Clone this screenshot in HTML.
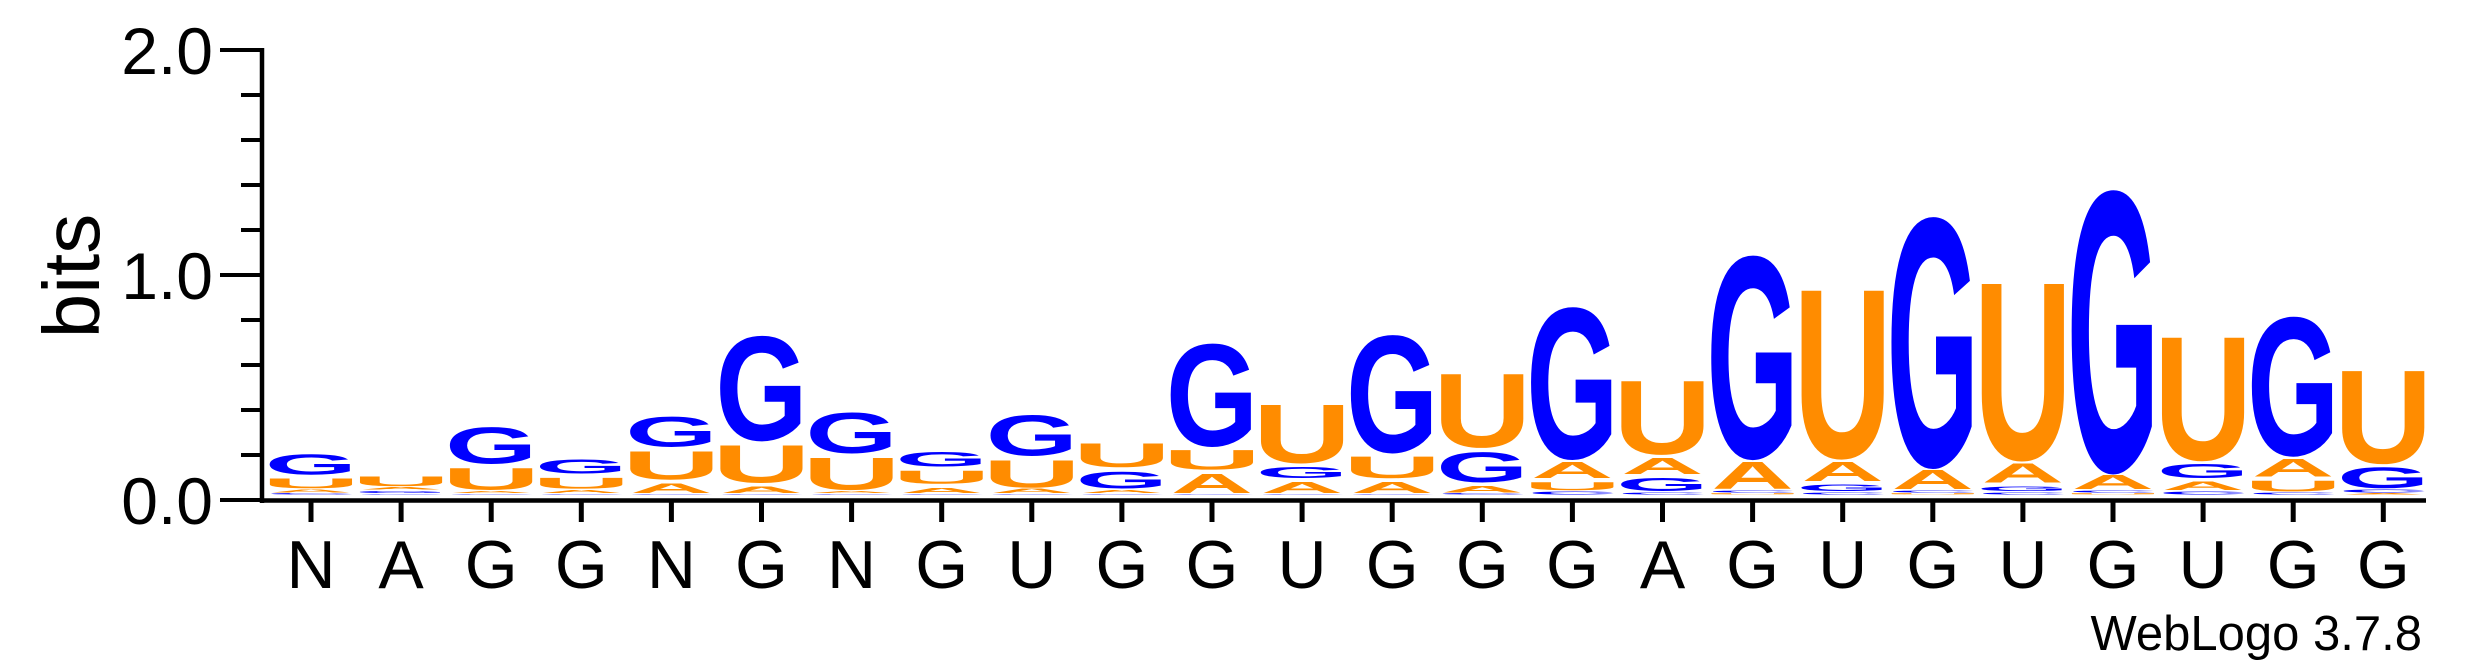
<!DOCTYPE html>
<html><head><meta charset="utf-8"><style>
html,body{margin:0;padding:0;background:#fff;}
svg{display:block;}
text{font-family:"Liberation Sans",Arial,sans-serif;}
</style></head>
<body>
<svg id="logo" width="2475" height="667" viewBox="0 0 2475 667" xmlns="http://www.w3.org/2000/svg">
<g id="axes"></g>
<g id="stacks"></g>
<text x="2422" y="650" font-size="49" text-anchor="end" fill="#000">WebLogo 3.7.8</text>
<text x="0" y="0" font-size="80" text-anchor="middle" transform="translate(99,276) rotate(-90)" fill="#000">bits</text>
</svg>
<script>
const positions = ["N","A","G","G","N","G","N","G","U","G","G","U","G","G","G","A","G","U","G","U","G","U","G","G"];
const gBits = [0.095,0.01,0.172,0.068,0.14,0.49,0.19,0.071,0.19,0.08,0.48,0.052,0.55,0.14,0.71,0.06,0.95,0.03,1.17,0.022,1.32,0.067,0.65,0.096];
const uBits = [0.045,0.045,0.10,0.05,0.13,0.173,0.148,0.06,0.126,0.11,0.09,0.27,0.10,0.34,0.037,0.34,0.005,0.78,0.005,0.82,0.005,0.57,0.049,0.43];
const aBits = [0.015,0.012,0.01,0.015,0.044,0.03,0.01,0.025,0.02,0.015,0.088,0.05,0.05,0.03,0.074,0.074,0.126,0.089,0.089,0.089,0.067,0.037,0.081,0.005];
const cBits = [0.005,0.003,0.003,0.003,0.003,0.003,0.003,0.003,0.003,0.003,0.003,0.003,0.003,0.005,0.015,0.01,0.01,0.01,0.01,0.01,0.01,0.015,0.01,0.015];
const yTicks = [0, 1, 2];
const yTickLabels = ["0.0","1.0","2.0"];

const NS = "http://www.w3.org/2000/svg";
const X0 = 311, DX = 90.1;
const Y0 = 500, PXB = 225;
const xPos = i => X0 + i * DX;
const yPos = v => Y0 - v * PXB;

function mk(tag, attrs, parent) {
  const e = document.createElementNS(NS, tag);
  for (const k in attrs) e.setAttribute(k, attrs[k]);
  parent.appendChild(e);
  return e;
}
const axes = document.getElementById('axes');
const stacks = document.getElementById('stacks');

let l = mk('line', {x1:262, y1:yPos(2)-2, x2:262, y2:Y0+3, stroke:'#000', 'stroke-width':4.5}, axes);


for (let v = 0; v <= 2.0001; v += 0.2) {
  const major = Math.abs(v - Math.round(v)) < 1e-6;
  const t = mk('line', {x1: major ? 220 : 241, y1: yPos(v), x2: 262, y2: yPos(v), stroke:'#000', 'stroke-width':4}, axes);
  
  
}
yTicks.forEach((v, i) => {
  const t = mk('text', {x: 213, y: yPos(v) + 24, 'font-size': 66, 'text-anchor': 'end', fill: '#000'}, axes);
  t.textContent = yTickLabels[i];
  
  
});
l = mk('line', {x1:262, y1:500.5, x2:2426, y2:500.5, stroke:'#000', 'stroke-width':4.5}, axes);


positions.forEach((p, i) => {
  const t = mk('line', {x1:xPos(i), y1:502, x2:xPos(i), y2:522, stroke:'#000', 'stroke-width':5}, axes);
  
  
  const tx = mk('text', {x: xPos(i), y: 588, 'font-size': 68, 'text-anchor': 'middle', fill: '#000'}, axes);
  tx.textContent = p;
  
  
});

const colors = {G:'#0000ff', C:'#0000ff', U:'#ff8c00', A:'#ff8c00'};
const ink = {G:0.69, C:0.66, U:0.60, A:0.72};
const series = {A:aBits, C:cBits, G:gBits, U:uBits};
const GAP = 0.016;
positions.forEach((p, i) => {
  const g = mk('g', {}, stacks);
  
  
  const letters = Object.keys(series).map(k => [k, series[k][i]]).sort((a, b) => a[1] - b[1]);
  let base = 0.025;
  letters.forEach(([k, v]) => {
    const h = v * PXB;
    if (h > 0.3) {
      const sx = 82 / (ink[k] * 100);
      const sy = h / (k === 'G' || k === 'C' ? 74 : 72.5);
      const t = mk('text', {x:0, y:0, 'font-size':100, 'font-weight':'bold', 'text-anchor':'middle', fill: colors[k],
        transform: 'translate(' + xPos(i) + ',' + yPos(base) + ') scale(' + sx + ',' + sy + ')'}, g);
      t.textContent = k;
      
      
    }
    base += v + (v > 0.02 ? GAP : 0.004);
  });
});
</script>
</body></html>
